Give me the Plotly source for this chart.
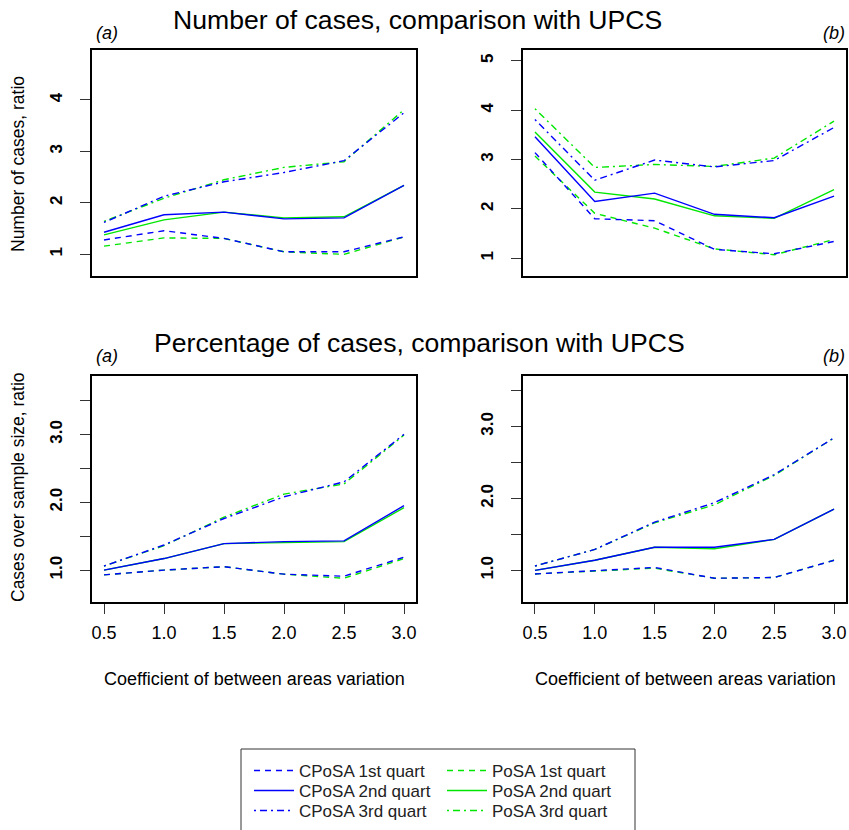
import plotly.graph_objects as go

W, H = 849, 830

# ---------------- data ----------------
cv = [0.5, 1.0, 1.5, 2.0, 2.5, 3.0]
x_tick_labels = ["0.5", "1.0", "1.5", "2.0", "2.5", "3.0"]

# Number of cases, (a)
num_a_cposa_q1 = [1.28, 1.46, 1.31, 1.05, 1.05, 1.34]
num_a_posa_q1 = [1.16, 1.32, 1.31, 1.05, 1.00, 1.34]
num_a_cposa_q2 = [1.43, 1.77, 1.82, 1.69, 1.71, 2.34]
num_a_posa_q2 = [1.38, 1.67, 1.82, 1.71, 1.73, 2.34]
num_a_cposa_q3 = [1.62, 2.13, 2.41, 2.59, 2.82, 3.75]
num_a_posa_q3 = [1.64, 2.09, 2.45, 2.69, 2.80, 3.81]

# Number of cases, (b)
num_b_cposa_q1 = [3.14, 1.80, 1.76, 1.18, 1.09, 1.34]
num_b_posa_q1 = [3.07, 1.91, 1.61, 1.19, 1.07, 1.38]
num_b_cposa_q2 = [3.46, 2.15, 2.32, 1.89, 1.82, 2.26]
num_b_posa_q2 = [3.56, 2.34, 2.20, 1.86, 1.81, 2.39]
num_b_cposa_q3 = [3.81, 2.58, 2.99, 2.85, 2.98, 3.65]
num_b_posa_q3 = [4.03, 2.84, 2.90, 2.86, 3.03, 3.78]

# Percentage of cases, (a)
pct_a_cposa_q1 = [0.93, 1.00, 1.05, 0.94, 0.91, 1.19]
pct_a_posa_q1 = [0.93, 1.00, 1.05, 0.94, 0.88, 1.17]
pct_a_cposa_q2 = [1.00, 1.17, 1.39, 1.42, 1.43, 1.95]
pct_a_posa_q2 = [1.00, 1.17, 1.39, 1.41, 1.42, 1.92]
pct_a_cposa_q3 = [1.06, 1.37, 1.76, 2.08, 2.30, 3.00]
pct_a_posa_q3 = [1.06, 1.36, 1.78, 2.12, 2.27, 2.99]

# Percentage of cases, (b)
pct_b_cposa_q1 = [0.95, 0.99, 1.04, 0.89, 0.90, 1.14]
pct_b_posa_q1 = [0.95, 0.99, 1.03, 0.89, 0.90, 1.14]
pct_b_cposa_q2 = [1.00, 1.14, 1.32, 1.32, 1.43, 1.85]
pct_b_posa_q2 = [1.00, 1.14, 1.32, 1.30, 1.43, 1.85]
pct_b_cposa_q3 = [1.06, 1.29, 1.67, 1.94, 2.33, 2.84]
pct_b_posa_q3 = [1.06, 1.29, 1.66, 1.91, 2.32, 2.84]

series_names = ["CPoSA 1st quart", "CPoSA 2nd quart", "CPoSA 3rd quart",
                "PoSA 1st quart", "PoSA 2nd quart", "PoSA 3rd quart"]

num_ticks = [[1, 2, 3, 4], [1, 2, 3, 4, 5]]
pct_ticks = [1.0, 1.5, 2.0, 2.5, 3.0, 3.5]
pct_tick_text = ["1.0", "", "2.0", "", "3.0", ""]

# ---------------- styling ----------------
FONT = "Liberation Sans, Arial, Helvetica, sans-serif"
BLUE = "#0000FF"
GREEN = "#00E600"
DASH = "6px,5px"
DASHDOT = "2px,4px,7px,4px"
LW = 1.4

def px(x):
    return x / W

def py(y):
    return 1 - y / H

panels = [
    ("x", "y", (92, 416), (50, 276), [0.58, 4.97],
     [num_a_cposa_q1, num_a_cposa_q2, num_a_cposa_q3, num_a_posa_q1, num_a_posa_q2, num_a_posa_q3]),
    ("x2", "y2", (523, 846), (50, 276), [0.64, 5.22],
     [num_b_cposa_q1, num_b_cposa_q2, num_b_cposa_q3, num_b_posa_q1, num_b_posa_q2, num_b_posa_q3]),
    ("x3", "y3", (92, 416), (376, 602), [0.53, 3.86],
     [pct_a_cposa_q1, pct_a_cposa_q2, pct_a_cposa_q3, pct_a_posa_q1, pct_a_posa_q2, pct_a_posa_q3]),
    ("x4", "y4", (523, 846), (376, 602), [0.56, 3.70],
     [pct_b_cposa_q1, pct_b_cposa_q2, pct_b_cposa_q3, pct_b_posa_q1, pct_b_posa_q2, pct_b_posa_q3]),
]

colors = [BLUE, BLUE, BLUE, GREEN, GREEN, GREEN]
dashes = [DASH, "solid", DASHDOT, DASH, "solid", DASHDOT]
legend_ids = ["legend", "legend2", "legend3", "legend4", "legend5", "legend6"]
# legend entry position (column x of legend box, row centre y), in pixels
legend_cols = [249, 249, 249, 442, 442, 442]
legend_rows = [771, 791, 811, 771, 791, 811]

fig = go.Figure()
for pi, (xa, ya, _, _, _, data) in enumerate(panels):
    order = [3, 4, 5, 0, 1, 2]  # draw PoSA first, CPoSA on top
    for si in order:
        fig.add_trace(go.Scatter(
            x=cv, y=data[si], mode="lines",
            name=series_names[si],
            line=dict(color=colors[si], width=LW, dash=dashes[si]),
            xaxis=xa, yaxis=ya,
            showlegend=(pi == 0), legend=legend_ids[si],
            hoverinfo="skip",
        ))

layout = dict(
    width=W, height=H,
    margin=dict(l=0, r=0, t=0, b=0, autoexpand=False),
    paper_bgcolor="white", plot_bgcolor="white",
    font=dict(family=FONT, color="black"),
    showlegend=True,
)

for pi, (xa, ya, xr, yr, yrange, _) in enumerate(panels):
    xkey = "xaxis" if xa == "x" else "xaxis" + xa[1:]
    ykey = "yaxis" if ya == "y" else "yaxis" + ya[1:]
    bottom = pi >= 2
    layout[xkey] = dict(
        domain=[px(xr[0]), px(xr[1])], anchor=ya, range=[0.4, 3.1],
        showgrid=False, zeroline=False, showline=True, mirror=True,
        linecolor="black", linewidth=1.5,
        tickvals=cv if bottom else [], ticktext=x_tick_labels if bottom else [],
        showticklabels=bottom, ticks="outside" if bottom else "",
        ticklen=10, tickwidth=1.2, tickcolor="#333",
        tickfont=dict(size=18, family=FONT),
        ticklabelstandoff=4,
    )
    if pi < 2:
        tv = num_ticks[pi]
        tt = [str(v) for v in tv]
    else:
        tv = pct_ticks
        tt = pct_tick_text
    layout[ykey] = dict(
        domain=[py(yr[1]), py(yr[0])], anchor=xa, range=yrange,
        showgrid=False, zeroline=False, showline=True, mirror=True,
        linecolor="black", linewidth=1.5,
        tickvals=tv, ticktext=tt, ticks="outside", ticklen=10,
        tickwidth=1.2, tickcolor="#333", tickangle=-90,
        tickfont=dict(size=17, family=FONT, weight="bold"),
        ticklabelstandoff=11,
    )

for lid, lx, ly in zip(legend_ids, legend_cols, legend_rows):
    layout[lid] = dict(
        x=px(lx), y=py(ly), xanchor="left", yanchor="middle", orientation="v",
        borderwidth=0, bgcolor="rgba(0,0,0,0)",
        font=dict(size=17, family=FONT, color="#222"),
        itemwidth=40,
    )

# legend frame
layout["shapes"] = [dict(
    type="rect", xref="paper", yref="paper",
    x0=px(241), x1=px(635), y0=py(840), y1=py(749),
    line=dict(color="#333", width=1), fillcolor="rgba(0,0,0,0)", layer="below",
)]

annotations = []
def txt(text, x, y, size, xanchor="center", italic=False, angle=0):
    annotations.append(dict(
        text=text, x=px(x), y=py(y), xref="paper", yref="paper",
        xanchor=xanchor, yanchor="middle", showarrow=False, textangle=angle,
        font=dict(size=size, family=FONT, color="black",
                  style="italic" if italic else "normal"),
    ))

txt("Number of cases, comparison with UPCS", 417, 20, 26.6)
txt("Percentage of cases, comparison with UPCS", 419, 343, 26.6)
txt("(a)", 94, 33, 18, xanchor="left", italic=True)
txt("(b)", 847, 33, 18, xanchor="right", italic=True)
txt("(a)", 94, 356, 18, xanchor="left", italic=True)
txt("(b)", 847, 356, 18, xanchor="right", italic=True)
txt("Number of cases, ratio", 18, 164, 17.5, angle=-90)
txt("Cases over sample size, ratio", 18, 487, 17.5, angle=-90)
txt("Coefficient of between areas variation", 254, 679, 18)
txt("Coefficient of between areas variation", 685, 679, 18)
layout["annotations"] = annotations

fig.update_layout(**layout)
fig.write_html("out.html")
